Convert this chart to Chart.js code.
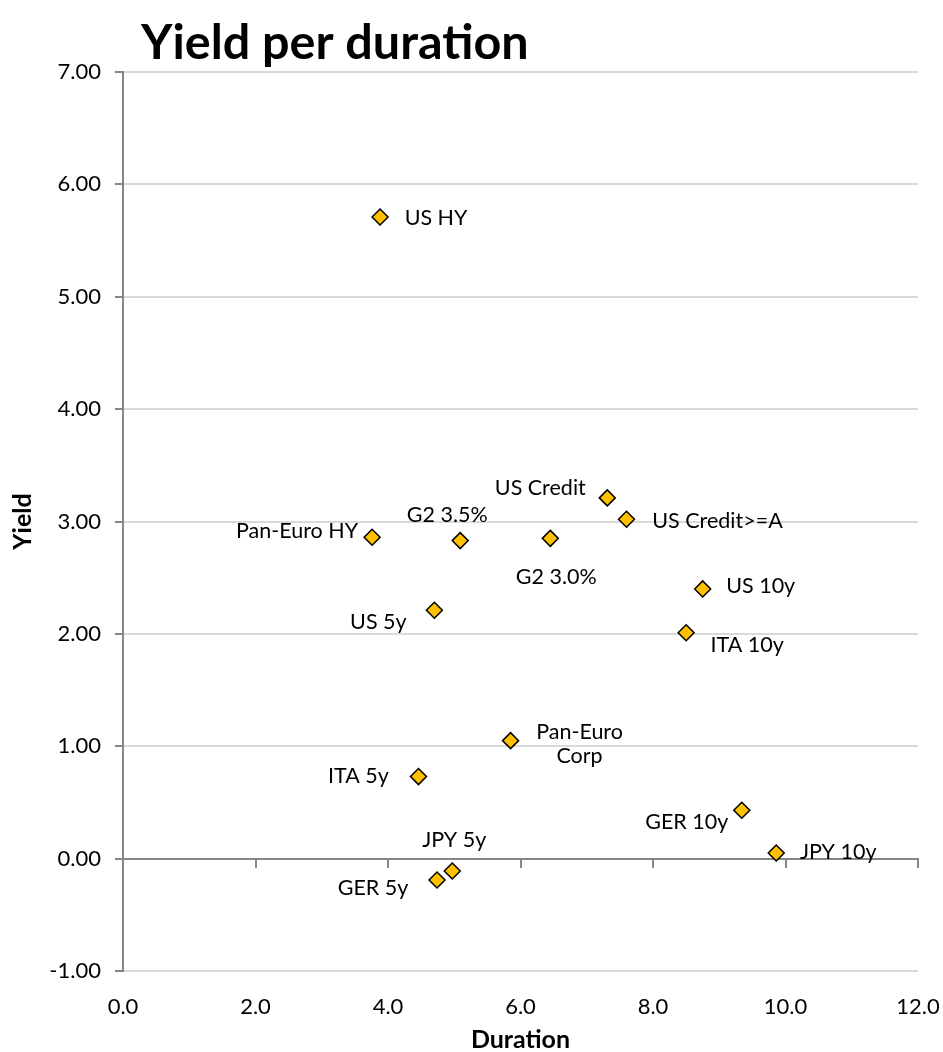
<!DOCTYPE html>
<html>
<head>
<meta charset="utf-8">
<title>Yield per duration</title>
<script src="https://cdn.jsdelivr.net/npm/chart.js@4.4.0/dist/chart.umd.min.js"></script>
<style>
  html, body { margin: 0; padding: 0; background: #fff; }
  #wrap { width: 943px; height: 1052px; }
</style>
</head>
<body>
<div id="wrap"><canvas id="chart" width="943" height="1052"></canvas></div>
<script>
// data
const names = ["US HY", "Pan-Euro HY", "G2 3.5%", "G2 3.0%", "US Credit", "US Credit>=A",
  "US 10y", "ITA 10y", "US 5y", "Pan-Euro\nCorp", "ITA 5y", "GER 10y", "JPY 10y", "JPY 5y", "GER 5y"];
const durations = [3.88, 3.76, 5.09, 6.45, 7.31, 7.60, 8.75, 8.50, 4.70, 5.85, 4.46, 9.34, 9.86, 4.97, 4.74];
const yields = [5.71, 2.86, 2.83, 2.85, 3.21, 3.02, 2.40, 2.01, 2.21, 1.05, 0.73, 0.43, 0.05, -0.11, -0.19];
const xTicks = [0, 2, 4, 6, 8, 10, 12];
const yTicks = [-1, 0, 1, 2, 3, 4, 5, 6, 7];

// where each label sits: offset of the text centre from its point (px)
const labelOffsets = [[56, 1], [-75, -6], [-13, -26], [6, 39], [-67, -10], [91, 2],
  [58, -3], [61, 12], [-56, 12], [69, 3], [-60, -1], [-55, 12], [62, -1], [2, -31], [-64, 8]];

const axisGray = "#868686";
const gridGray = "#d9d9d9";

const points = durations.map((d, i) => ({ x: d, y: yields[i] }));

// point labels
const pointLabels = {
  id: "pointLabels",
  afterDatasetsDraw(chart) {
    const ctx = chart.ctx;
    const meta = chart.getDatasetMeta(0);
    ctx.save();
    ctx.font = "21.5px Lato";
    ctx.fillStyle = "#000";
    ctx.textAlign = "center";
    ctx.textBaseline = "middle";
    meta.data.forEach((el, i) => {
      const lines = names[i].split("\n");
      const cx = el.x + labelOffsets[i][0];
      const cy = el.y + labelOffsets[i][1];
      const lh = 24;
      lines.forEach((ln, k) => {
        ctx.fillText(ln, cx, cy + (k - (lines.length - 1) / 2) * lh);
      });
    });
    ctx.restore();
  }
};

// title sits left of centre, as in the original
const chartTitle = {
  id: "chartTitle",
  afterDraw(chart) {
    const ctx = chart.ctx;
    ctx.save();
    ctx.font = "bold 48.5px Lato";
    ctx.fillStyle = "#000";
    ctx.textAlign = "left";
    ctx.textBaseline = "alphabetic";
    ctx.fillText("Yield per duration", 141, 59);
    ctx.restore();
  }
};

// keep tick label overhang from shrinking the plot area
function noOverhang(s) {
  s.paddingLeft = 0;
  s.paddingRight = 0;
  s.paddingTop = 0;
  s.paddingBottom = 0;
}

function draw() {
  new Chart(document.getElementById("chart"), {
    type: "scatter",
    data: {
      datasets: [{
        data: points,
        pointStyle: "rectRot",
        pointRadius: 8,
        pointHoverRadius: 8,
        backgroundColor: "#FFC000",
        borderColor: "#000",
        borderWidth: 1.5
      }]
    },
    options: {
      responsive: false,
      devicePixelRatio: 1,
      animation: false,
      events: [],
      layout: { padding: { top: 72, right: 25, left: 0, bottom: 0 } },
      plugins: { legend: { display: false }, tooltip: { enabled: false } },
      scales: {
        x: {
          type: "linear",
          position: "bottom",
          min: 0, max: 12,
          afterBuildTicks: s => { s.ticks = xTicks.map(v => ({ value: v })); },
          afterFit: s => { s.height = 81; noOverhang(s); },
          ticks: {
            callback: v => v.toFixed(1),
            font: { family: "Lato", size: 22 },
            color: "#000",
            padding: 15,
            maxRotation: 0
          },
          grid: { display: false },
          border: { display: false },
          title: {
            display: true,
            text: "Duration",
            font: { family: "Lato", size: 25, weight: "bold", lineHeight: 1 },
            color: "#000",
            padding: { top: 0, bottom: 0 }
          }
        },
        // the x axis line crosses at zero
        x2: {
          type: "linear",
          axis: "x",
          position: { y: 0 },
          min: 0, max: 12,
          afterBuildTicks: s => { s.ticks = xTicks.map(v => ({ value: v })); },
          afterFit: noOverhang,
          ticks: { display: false },
          grid: { drawOnChartArea: false, drawTicks: true, tickLength: 8, color: axisGray, lineWidth: 2 },
          border: { color: axisGray, width: 2 }
        },
        y: {
          type: "linear",
          position: "left",
          min: -1, max: 7,
          afterBuildTicks: s => { s.ticks = yTicks.map(v => ({ value: v })); },
          afterFit: s => { s.width = 123; noOverhang(s); },
          ticks: {
            callback: v => v.toFixed(2),
            font: { family: "Lato", size: 22 },
            color: "#000",
            padding: 14
          },
          grid: {
            color: c => (c.tick && c.tick.value === 0 ? axisGray : gridGray),
            lineWidth: 2,
            tickColor: axisGray,
            tickLength: 8
          },
          border: { color: axisGray, width: 2 },
          title: {
            display: true,
            text: "Yield",
            font: { family: "Lato", size: 25, weight: "bold", lineHeight: 1 },
            color: "#000",
            padding: { top: 10, bottom: 0 }
          }
        }
      }
    },
    plugins: [pointLabels, chartTitle]
  });
}

if (document.fonts && document.fonts.load) {
  Promise.all([document.fonts.load("21px Lato"), document.fonts.load("bold 50px Lato")]).then(draw, draw);
} else {
  draw();
}
</script>
</body>
</html>
